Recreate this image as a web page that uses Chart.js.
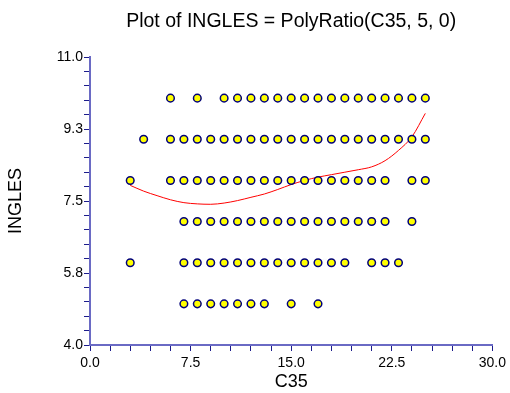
<!DOCTYPE html>
<html>
<head>
<meta charset="utf-8">
<script src="https://cdn.jsdelivr.net/npm/chart.js@4/dist/chart.umd.min.js"></script>
<style>
  html, body { margin: 0; padding: 0; background: #fff; }
  #wrap { width: 510px; height: 393px; }
</style>
</head>
<body>
<div id="wrap"><canvas id="plot" width="510" height="393"></canvas></div>
<script>
// observed C35 values for each INGLES level
const ingles10X = [6, 8, 10, 11, 12, 13, 14, 15, 16, 17, 18, 19, 20, 21, 22, 23, 24, 25];
const ingles9X = [4, 6, 7, 8, 9, 10, 11, 12, 13, 14, 15, 16, 17, 18, 19, 20, 21, 22, 23, 24, 25];
const ingles8X = [3, 6, 7, 8, 9, 10, 11, 12, 13, 14, 15, 16, 17, 18, 19, 20, 21, 22, 24, 25];
const ingles7X = [7, 8, 9, 10, 11, 12, 13, 14, 15, 16, 17, 18, 19, 20, 21, 22, 24];
const ingles6X = [3, 7, 8, 9, 10, 11, 12, 13, 14, 15, 16, 17, 18, 19, 21, 22, 23];
const ingles5X = [7, 8, 9, 10, 11, 12, 13, 15, 17];

// fitted PolyRatio curve
const fitX = [3, 4, 5, 6, 7, 8, 9, 10, 11, 12, 13, 14, 15, 16, 17, 18, 19, 20, 21, 22, 23, 24, 25];
const fitY = [7.88, 7.74, 7.63, 7.53, 7.46, 7.43, 7.42, 7.45, 7.51, 7.59, 7.67, 7.78, 7.90, 8.00,
              8.08, 8.14, 8.20, 8.26, 8.33, 8.48, 8.73, 9.06, 9.63];

const xTickLabels = ['0.0', '7.5', '15.0', '22.5', '30.0'];
const yTickLabels = ['4.0', '5.8', '7.5', '9.3', '11.0'];

const FONT = "'Liberation Sans', Arial, sans-serif";
const axisColor = '#6a6ac4';
const tickColor = '#1c1c8c';

function level(xs, y) {
    return xs.map(x => ({ x, y }));
}

const points = [].concat(
    level(ingles10X, 10), level(ingles9X, 9), level(ingles8X, 8),
    level(ingles7X, 7), level(ingles6X, 6), level(ingles5X, 5)
);

function minorTicks(min, step, n) {
    const t = [];
    for (let i = 0; i <= n; i++) t.push({ value: +(min + i * step).toFixed(4) });
    return t;
}

new Chart(document.getElementById('plot'), {
    type: 'scatter',
    data: {
        datasets: [
            {
                type: 'line',
                data: fitX.map((x, i) => ({ x, y: fitY[i] })),
                borderColor: '#ff0000',
                borderWidth: 1,
                pointRadius: 0,
                fill: false,
                cubicInterpolationMode: 'monotone',
                order: 2
            },
            {
                data: points,
                backgroundColor: '#ffff00',
                borderColor: '#00007a',
                borderWidth: 1.5,
                pointRadius: 3.8,
                order: 1
            }
        ]
    },
    options: {
        responsive: false,
        animation: false,
        layout: { padding: { left: 0, right: 16, top: 0, bottom: 0 } },
        plugins: {
            legend: { display: false },
            tooltip: { enabled: false },
            title: {
                display: true,
                fullSize: false,
                text: 'Plot of INGLES = PolyRatio(C35, 5, 0)',
                color: '#000',
                font: { family: FONT, size: 19.5, weight: 'normal' },
                padding: { top: 9.5, bottom: 24.1 }
            }
        },
        scales: {
            x: {
                type: 'linear',
                min: 0,
                max: 30,
                afterBuildTicks: s => { s.ticks = minorTicks(0, 1.5, 20); },
                afterFit: s => { s.height = 48; },
                ticks: {
                    autoSkip: false,
                    maxRotation: 0,
                    padding: 4,
                    color: '#000',
                    font: { family: FONT, size: 14 },
                    callback: (v, i) => (i % 5 === 0 ? xTickLabels[i / 5] : '')
                },
                grid: { drawOnChartArea: false, tickLength: 6, color: tickColor, tickWidth: 1 },
                border: { color: axisColor, width: 2 },
                title: {
                    display: true,
                    text: 'C35',
                    color: '#000',
                    font: { family: FONT, size: 18 },
                    padding: { top: 0, bottom: 0 }
                }
            },
            y: {
                type: 'linear',
                min: 4,
                max: 11,
                afterBuildTicks: s => { s.ticks = minorTicks(4, 0.35, 20); },
                afterFit: s => { s.width = 90; },
                ticks: {
                    autoSkip: false,
                    padding: 1,
                    color: '#000',
                    font: { family: FONT, size: 14 },
                    callback: (v, i) => (i % 5 === 0 ? yTickLabels[i / 5] : '')
                },
                grid: { drawOnChartArea: false, tickLength: 6, color: tickColor, tickWidth: 1 },
                border: { color: axisColor, width: 2 },
                title: {
                    display: true,
                    text: 'INGLES',
                    color: '#000',
                    font: { family: FONT, size: 18 },
                    padding: { top: 5, bottom: 0 }
                }
            }
        }
    }
});
</script>
</body>
</html>
